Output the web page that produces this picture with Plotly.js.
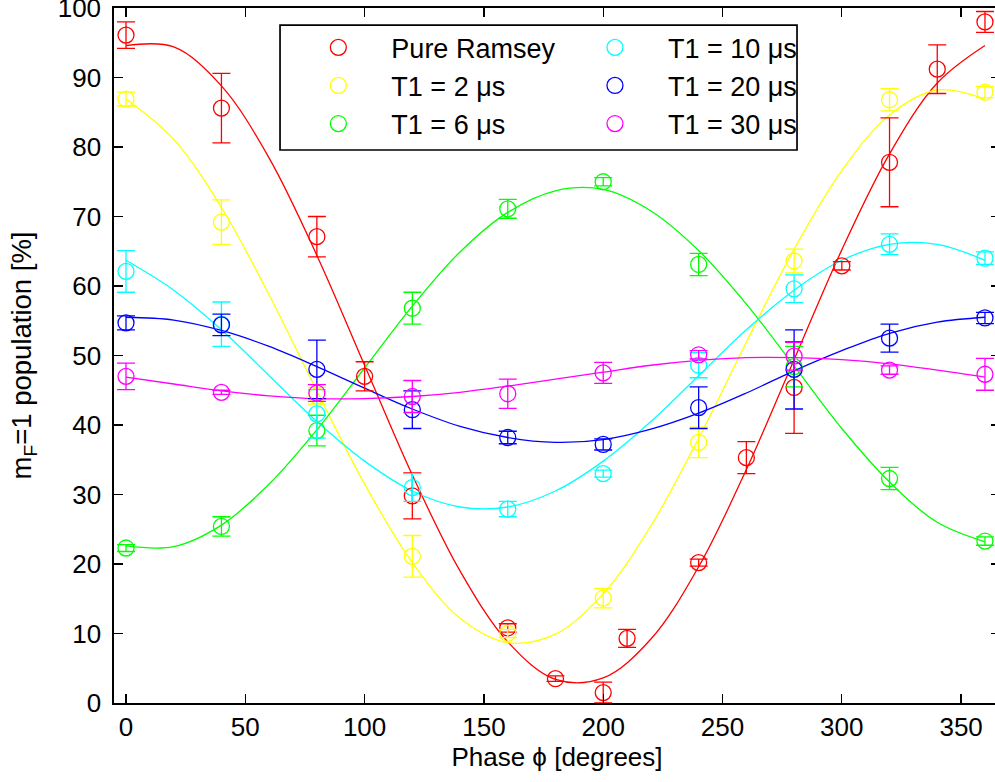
<!DOCTYPE html>
<html><head><meta charset="utf-8">
<script src="https://cdn.plot.ly/plotly-3.0.1.min.js"></script>
<style>html,body{margin:0;padding:0;overflow:hidden;background:#fff}#chart{width:1000px;height:782px}</style>
</head><body><div id="chart"></div>
<script>
// ---- data ----
const seriesNames = ["Pure Ramsey", "T1 = 2 \u03bcs", "T1 = 6 \u03bcs", "T1 = 10 \u03bcs", "T1 = 20 \u03bcs", "T1 = 30 \u03bcs"];
const phaseRamsey = [0, 40, 80, 100, 120, 160, 180, 200, 210, 240, 260, 280, 300, 320, 340, 360];
const phaseT1 = [0, 40, 80, 120, 160, 200, 240, 280, 320, 360];

const ramseyY   = [96.1, 85.6, 67.1, 47.0, 29.8, 10.8, 3.5, 1.5, 9.3, 20.2, 35.3, 45.4, 62.9, 77.8, 91.2, 98.0];
const ramseyErr = [1.9, 5.0, 2.9, 2.1, 3.3, 0.6, 0.4, 1.5, 1.3, 0.5, 2.3, 6.6, 0.6, 6.4, 3.5, 1.5];
const t2Y   = [86.9, 69.2, 44.2, 21.1, 10.0, 15.1, 37.5, 63.6, 86.8, 87.9];
const t2Err = [1.0, 3.2, 1.2, 3.0, 0.6, 1.4, 2.2, 1.7, 1.6, 0.8];
const t6Y   = [22.3, 25.4, 39.2, 56.8, 71.1, 75.0, 63.1, 48.4, 32.3, 23.3];
const t6Err = [0.5, 1.4, 2.2, 2.3, 1.35, 0.6, 1.6, 2.9, 1.6, 0.6];
const t10Y   = [62.1, 54.5, 41.6, 31.0, 27.9, 33.0, 48.6, 59.6, 66.0, 64.0];
const t10Err = [3.0, 3.2, 3.5, 2.0, 1.1, 0.5, 1.8, 2.0, 1.5, 0.9];
const t20Y   = [54.7, 54.4, 48.0, 42.2, 38.2, 37.2, 42.5, 48.0, 52.5, 55.4];
const t20Err = [1.0, 1.55, 4.2, 2.7, 0.9, 0.8, 3.0, 5.7, 2.0, 0.8];
const t30Y   = [47.0, 44.7, 44.6, 44.1, 44.5, 47.5, 50.1, 49.9, 47.9, 47.3];
const t30Err = [1.9, 0.3, 1.2, 2.3, 2.1, 1.5, 0.6, 2.0, 0.6, 2.3];

// fitted curves, read every 20 degrees
const fitPhase = [0, 20, 40, 60, 80, 100, 120, 140, 160, 180, 200, 220, 240, 260, 280, 300, 320, 340, 360];
const ramseyFit = [94.6, 94.4, 88.8, 78.4, 64.4, 48.6, 32.8, 19.0, 8.8, 3.4, 3.6, 9.2, 19.6, 33.6, 49.4, 65.2, 79.0, 89.2, 94.6];
const t2Fit  = [86.9, 81.1, 71.3, 58.7, 44.9, 31.5, 20.2, 12.2, 8.7, 9.9, 15.7, 25.5, 38.1, 51.9, 65.3, 76.6, 84.6, 88.2, 86.9];
const t6Fit  = [22.6, 22.5, 25.6, 31.5, 39.3, 48.2, 57.1, 64.9, 70.6, 73.7, 73.9, 70.8, 65.1, 57.4, 48.5, 39.5, 31.8, 26.0, 23.2];
const t10Fit = [63.7, 59.4, 53.7, 47.1, 40.5, 34.8, 30.5, 28.2, 28.2, 30.5, 34.8, 40.5, 47.1, 53.7, 59.4, 63.7, 66.0, 66.0, 63.7];
const t20Fit = [55.5, 55.1, 53.6, 51.3, 48.4, 45.3, 42.3, 39.8, 38.2, 37.5, 37.9, 39.4, 41.7, 44.6, 47.8, 50.7, 53.2, 54.8, 55.5];
const t30Fit = [46.9, 45.9, 44.9, 44.2, 43.8, 43.8, 44.1, 44.7, 45.6, 46.6, 47.6, 48.6, 49.3, 49.7, 49.7, 49.4, 48.8, 47.9, 46.9];

const colors = ["#ff0000", "#ffff00", "#00ff00", "#00ffff", "#0000ff", "#ff00ff"];

// ---- build traces ----
const series = [
  {x: phaseRamsey, y: ramseyY, e: ramseyErr, fit: ramseyFit},
  {x: phaseT1, y: t2Y, e: t2Err, fit: t2Fit},
  {x: phaseT1, y: t6Y, e: t6Err, fit: t6Fit},
  {x: phaseT1, y: t10Y, e: t10Err, fit: t10Fit},
  {x: phaseT1, y: t20Y, e: t20Err, fit: t20Fit},
  {x: phaseT1, y: t30Y, e: t30Err, fit: t30Fit}
];
const FONT = "Liberation Sans, Arial, Helvetica, sans-serif";
const traces = [];
series.forEach((s, i) => {
  traces.push({
    x: fitPhase, y: s.fit, mode: "lines", type: "scatter",
    line: {color: colors[i], width: 1.3, shape: "spline", smoothing: 1},
    showlegend: false, hoverinfo: "skip"
  });
});
series.forEach((s, i) => {
  traces.push({
    x: s.x, y: s.y, mode: "markers", type: "scatter", name: seriesNames[i],
    legend: i < 3 ? "legend" : "legend2",
    legendgroup: "g" + i,
    marker: {symbol: "circle-open", size: 16, color: colors[i], line: {width: 1.3, color: colors[i]}},
    error_y: {type: "data", array: s.e, visible: true, color: colors[i], thickness: 1.3, width: 9},
    cliponaxis: false
  });
});

const legendCommon = {
  bgcolor: "rgba(0,0,0,0)", borderwidth: 0, font: {family: FONT, size: 27, color: "#000"},
  xanchor: "left", yanchor: "top", itemwidth: 96, tracegroupgap: 0, itemclick: false
};

const layout = {
  width: 1000, height: 782,
  margin: {l: 114, r: 0, t: 8, b: 79},
  paper_bgcolor: "#fff", plot_bgcolor: "#fff",
  font: {family: FONT, size: 26, color: "#000"},
  showlegend: true,
  xaxis: {
    range: [-5.03, 366.3], tickvals: [0, 50, 100, 150, 200, 250, 300, 350],
    ticks: "inside", ticklen: 9, tickwidth: 1.3, tickcolor: "#000",
    showline: true, linecolor: "#000", linewidth: 1.7, mirror: "ticks",
    showgrid: false, zeroline: false, ticklabeloverflow: "allow",
    tickfont: {family: FONT, size: 26, color: "#000"},
    ticklabelstandoff: 0,
    title: {text: "Phase \u03d5 [degrees]", font: {family: FONT, size: 26, color: "#000"}, standoff: 2}
  },
  yaxis: {
    range: [0, 100], tickvals: [0, 10, 20, 30, 40, 50, 60, 70, 80, 90, 100],
    ticks: "inside", ticklen: 9, tickwidth: 1.3, tickcolor: "#000",
    showline: true, linecolor: "#000", linewidth: 1.7, mirror: "ticks",
    showgrid: false, zeroline: false, ticklabeloverflow: "allow",
    tickfont: {family: FONT, size: 26, color: "#000"},
    ticklabelstandoff: 6,
    title: {text: "m<sub>F</sub>=1 population [%]", font: {family: FONT, size: 27.5, color: "#000"}, standoff: 18}
  },
  legend: Object.assign({}, legendCommon, {x: 0.1934, y: 0.978}),
  legend2: Object.assign({}, legendCommon, {x: 0.5056, y: 0.978}),
  shapes: [{
    type: "rect", xref: "paper", yref: "paper", x0: 0.1874, x1: 0.7709, y0: 0.7957, y1: 0.9755,
    line: {color: "#000", width: 1.7}, fillcolor: "rgba(0,0,0,0)", layer: "above"
  }]
};

Plotly.newPlot("chart", traces, layout, {displayModeBar: false, staticPlot: true});
</script></body></html>
